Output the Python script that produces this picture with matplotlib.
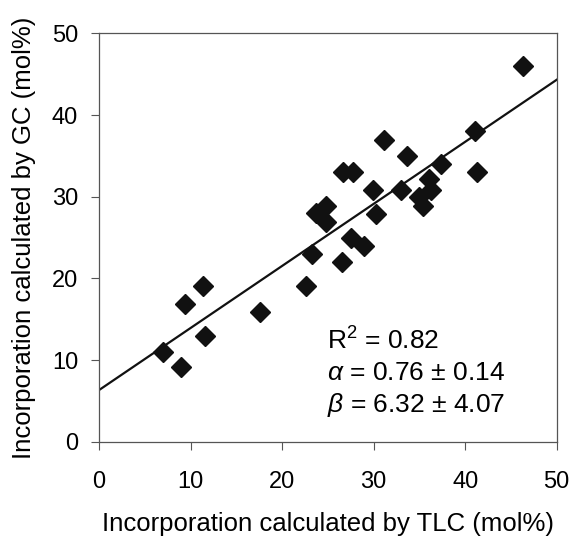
import matplotlib
matplotlib.use("Agg")
import matplotlib.pyplot as plt

plt.rcParams["font.family"] = ["Liberation Sans", "DejaVu Sans"]
plt.rcParams["mathtext.fontset"] = "custom"
plt.rcParams["mathtext.rm"] = "Liberation Sans"
plt.rcParams["mathtext.it"] = "Liberation Sans:italic"

# incorporation (mol%) by TLC vs GC
tlc = [46.3, 41.1, 41.3, 31.1, 33.6, 37.4, 26.6, 27.7, 29.9, 33.0,
       36.1, 36.3, 35.0, 35.4, 30.3, 24.8, 23.7, 24.8, 23.3, 27.5,
       29.0, 26.5, 22.6, 17.6, 11.4, 9.4, 11.6, 7.0, 9.0]
gc = [46.0, 38.0, 33.0, 37.0, 35.0, 34.0, 33.0, 33.0, 30.8, 30.8,
      32.2, 30.8, 30.0, 28.9, 27.9, 28.9, 28.0, 26.9, 23.0, 25.0,
      24.0, 22.0, 19.1, 15.9, 19.1, 16.9, 13.0, 11.0, 9.1]

slope = 0.76
intercept = 6.32
fit_x = [0, 50]
ticks = [0, 10, 20, 30, 40, 50]

fig = plt.figure(figsize=(5.73, 5.38), dpi=100)
ax = fig.add_axes([0.1728, 0.179, 0.7988, 0.759])

ax.plot(fit_x, [slope * x + intercept for x in fit_x], color="#111111", lw=1.6, zorder=2)
ax.plot(tlc, gc, linestyle="none", marker="D", ms=10, color="#111111", zorder=3)

ax.set_xlim(0, 50)
ax.set_ylim(0, 50)
ax.set_xticks(ticks)
ax.set_yticks(ticks)
ax.tick_params(direction="out", length=5.5, width=0.8, color="#555555", labelsize=17)
ax.tick_params(axis="x", pad=15.5)
ax.tick_params(axis="y", pad=9.5)
for sp in ax.spines.values():
    sp.set_color("#555555")
    sp.set_linewidth(0.9)

ax.set_xlabel("Incorporation calculated by TLC (mol%)", fontsize=18.5)
ax.set_ylabel("Incorporation calculated by GC (mol%)", fontsize=18.5)
ax.xaxis.set_label_coords(0.5, -0.172)
ax.yaxis.set_label_coords(-0.137, 0.5)

stats = ["R$^2$ = 0.82", r"$\alpha$ = 0.76 ± 0.14", r"$\beta$ = 6.32 ± 4.07"]
for txt, yy in zip(stats, [0.2262, 0.151, 0.0735]):
    ax.text(0.4975, yy, txt, transform=ax.transAxes, fontsize=19,
            ha="left", va="baseline")

fig.savefig("out.png", dpi=100)
